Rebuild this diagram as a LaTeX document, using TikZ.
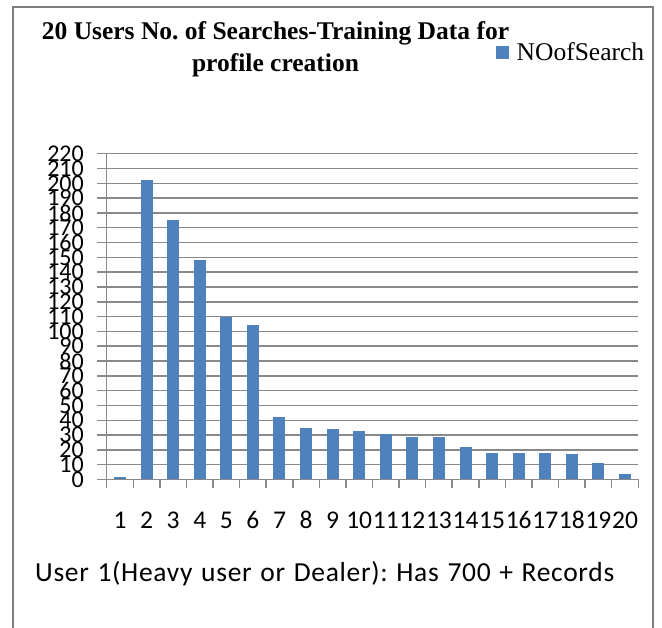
\documentclass[tikz,border=0pt]{standalone}
\usepackage{fontspec}
\setmainfont{Liberation Serif}
\newfontfamily\calfont{Carlito}
\newfontfamily\calwide[LetterSpace=2.5]{Carlito}
\definecolor{barblue}{HTML}{4F81BD}
\definecolor{gridgray}{HTML}{898989}
\definecolor{framegray}{HTML}{7F7F7F}
\frenchspacing
\begin{document}
\begin{tikzpicture}[x=1pt,y=-1pt,
  gridline/.style={gridgray,line width=1.5pt},
  barfill/.style={fill=barblue,draw=none},
  ylab/.style={anchor=east,inner sep=0pt,font=\calfont\fontsize{24}{24}\selectfont},
  xlab/.style={anchor=center,inner sep=0pt,font=\calfont\fontsize{25.5}{25.5}\selectfont},
  titletext/.style={anchor=base,inner sep=0pt,font=\bfseries\fontsize{25.5}{30}\selectfont},
  legendtext/.style={anchor=base west,inner sep=0pt,font=\fontsize{25.5}{28}\selectfont},
  notetext/.style={anchor=base west,inner sep=0pt,font=\calwide\fontsize{27.5}{27.5}\selectfont}]
\useasboundingbox (0,0) rectangle (662,628);
\fill[white] (0,0) rectangle (662,628);
\draw[framegray,line width=2.2pt] (13.3,628) -- (13.3,6.7) -- (653,6.7) -- (653,628);
\def\xa{106.7}
\def\xb{638.3}
\def\yz{479.5}
\def\u{1.481}
\def\cw{26.58}
% gridlines and y labels
\foreach \v in {0,10,...,220} {
  \draw[gridline] (97,{\yz-\v*\u}) -- (\xb,{\yz-\v*\u});
  \node[ylab] (yl\v) at (84,{\yz-\v*\u}) {\v};
}
% bars
\foreach \i/\v in {1/2,2/202,3/175,4/148,5/110,6/104,7/42,8/35,9/34,10/33,11/31,12/29,13/29,14/22,15/18,16/18,17/18,18/17,19/11,20/4} {
  \fill[barfill] ({\xa+(\i-0.5)*\cw-6},\yz) rectangle ({\xa+(\i-0.5)*\cw+6},{\yz-\v*\u});
  \node[xlab] (xl\i) at ({\xa+(\i-0.5)*\cw},520.3) {\i};
}
% axes
\draw[gridline] (\xa,{\yz-220*\u}) -- (\xa,\yz);
\draw[gridline] (97,\yz) -- (\xb,\yz);
\foreach \i in {0,...,20}
  \draw[gridline] ({\xa+\i*\cw},\yz) -- ({\xa+\i*\cw},488.5);
% title
\node[titletext] (title1) at (275.5,39.3) {20 Users No. of Searches-Training Data for};
\node[titletext] (title2) at (275.5,72) {profile creation};
% legend
\fill[barfill] (496,46) rectangle (509,59);
\node[legendtext] (legend) at (516.5,60.5) {NOofSearch};
% note
\node[notetext] (note) at (35,581) {\makebox[579pt][s]{User 1(Heavy user or Dealer): Has 700 + Records}};
\end{tikzpicture}
\end{document}
